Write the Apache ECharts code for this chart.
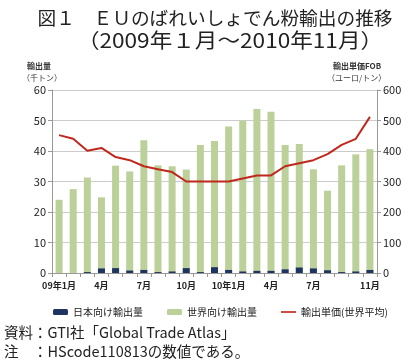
<!DOCTYPE html>
<html><head><meta charset="utf-8">
<script src="https://cdn.jsdelivr.net/npm/echarts@6/dist/echarts.min.js"></script>
<style>html,body{margin:0;padding:0;background:#fff}#c{width:411px;height:364px}</style>
</head><body><div id="c"></div>
<script>
var months = ['2009-01','2009-02','2009-03','2009-04','2009-05','2009-06','2009-07','2009-08','2009-09','2009-10','2009-11','2009-12',
  '2010-01','2010-02','2010-03','2010-04','2010-05','2010-06','2010-07','2010-08','2010-09','2010-10','2010-11'];
var tickLabels = ['09年1月','','','4月','','','7月','','','10月','','','10年1月','','','4月','','','7月','','','','11月'];
var japanQty = [0,0,0.3,1.5,1.6,0.8,1.0,0.3,0.5,1.6,0.3,1.9,1.0,0.5,0.7,0.7,1.2,1.8,1.5,0.9,0.3,0.5,1.0];
var worldQty = [24,27.5,31.3,24.8,35.2,33.3,43.5,35.3,35,33.9,42,43.3,48,49.9,53.8,52.9,42,42.3,34,27,35.3,38.9,40.6];
var unitPrice = [452,440,401,410,380,370,350,340,331,300,300,300,300,310,320,320,350,360,370,390,420,440,512];

var font = '"Noto Sans CJK JP", sans-serif';
var chart = echarts.init(document.getElementById('c'));
chart.setOption({
  animation: false,
  textStyle: {fontFamily: font},
  grid: {left: 52, right: 34, top: 90, bottom: 91},
  legend: {
    top: 307, left: 53, padding: 0, itemGap: 24, itemWidth: 15, itemHeight: 6,
    textStyle: {fontSize: 10, color: '#222', fontFamily: font},
    data: ['日本向け輸出量','世界向け輸出量',
      {name: '輸出単価(世界平均)', icon: 'path://M0,0L20,0L20,2.2L0,2.2Z', itemStyle: {color: '#c0281e'}}]
  },
  graphic: [
    {type:'text', x:215, y:18, style:{text:'図１　ＥＵのばれいしょでん粉輸出の推移', font:'18.7px '+font, fill:'#222', align:'center', verticalAlign:'middle'}},
    {type:'text', x:230, y:40, scaleX:1.13, style:{text:'（2009年１月～2010年11月）', font:'20px '+font, fill:'#222', align:'center', verticalAlign:'middle'}},
    {type:'text', left:27, top:62, style:{text:'輸出量', font:'bold 8px '+font, fill:'#333'}},
    {type:'text', left:22, top:74, style:{text:'（千トン）', font:'8px '+font, fill:'#333'}},
    {type:'text', left:333, top:62, style:{text:'輸出単価FOB', font:'bold 8px '+font, fill:'#333'}},
    {type:'text', left:327, top:74, style:{text:'（ユーロ/トン）', font:'8px '+font, fill:'#333'}},
    {type:'text', x:4, y:332, style:{text:'資料：GTI社「Global Trade Atlas」', font:'14.5px '+font, fill:'#222', verticalAlign:'middle'}},
    {type:'text', x:4, y:351, style:{text:'注　：HScode110813の数値である。', font:'14.5px '+font, fill:'#222', verticalAlign:'middle'}}
  ],
  xAxis: {
    type: 'category', data: months,
    axisLine: {lineStyle: {color: '#999'}},
    axisTick: {show: true, interval: 0, length: 4, lineStyle: {color: '#999'}},
    axisLabel: {interval: 0, fontSize: 9, fontWeight: 'bold', color: '#222', margin: 8,
      formatter: function(v, i){ return tickLabels[i]; }}
  },
  yAxis: [
    {type: 'value', min: 0, max: 60, interval: 10,
     axisLine: {show: true, lineStyle: {color: '#999'}},
     axisTick: {show: true, length: 4, lineStyle: {color: '#999'}},
     axisLabel: {fontSize: 11, color: '#222', margin: 6},
     splitLine: {lineStyle: {color: '#ccc', width: 1}}},
    {type: 'value', min: 0, max: 600, interval: 100,
     axisLine: {show: true, lineStyle: {color: '#999'}},
     axisTick: {show: true, length: 4, lineStyle: {color: '#999'}},
     axisLabel: {fontSize: 11, color: '#222', margin: 6},
     splitLine: {show: false}}
  ],
  series: [
    {name: '世界向け輸出量', type: 'bar', data: worldQty, barWidth: 7, barGap: '-100%',
     itemStyle: {color: '#bcd09a'}, z: 2},
    {name: '日本向け輸出量', type: 'bar', data: japanQty, barWidth: 7, barGap: '-100%',
     itemStyle: {color: '#1f3460'}, z: 3},
    {name: '輸出単価(世界平均)', type: 'line', yAxisIndex: 1, data: unitPrice, symbol: 'none',
     lineStyle: {color: '#c0281e', width: 2}, itemStyle: {color: '#c0281e'}, z: 4}
  ]
});
</script></body></html>
